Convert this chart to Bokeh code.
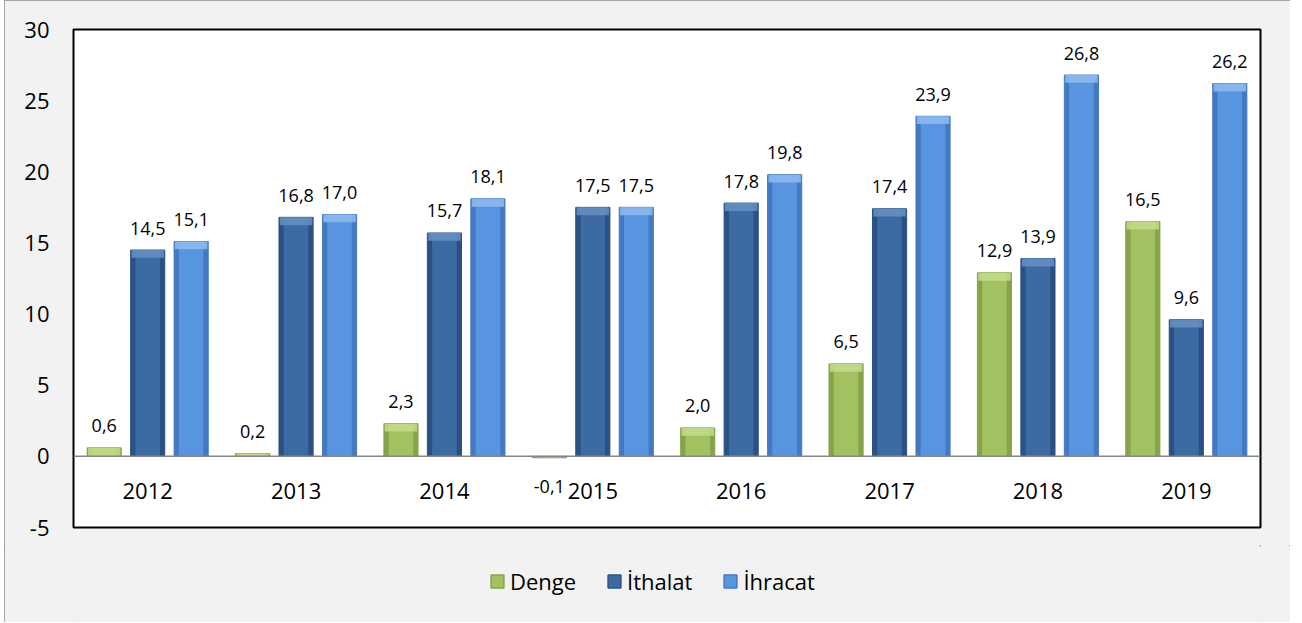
from bokeh.plotting import figure
from bokeh.layouts import column
from bokeh.models import ColumnDataSource, Range1d, Legend, LegendItem, FixedTicker, Span
from bokeh.core.properties import value
from bokeh.embed import file_html
from bokeh.resources import INLINE
import numpy as np

years = ["2012", "2013", "2014", "2015", "2016", "2017", "2018", "2019"]
denge = [0.6, 0.2, 2.3, -0.1, 2.0, 6.5, 12.9, 16.5]
ithalat = [14.5, 16.8, 15.7, 17.5, 17.8, 17.4, 13.9, 9.6]
ihracat = [15.1, 17.0, 18.1, 17.5, 19.8, 23.9, 26.8, 26.2]
y_ticks = [-5, 0, 5, 10, 15, 20, 25, 30]

FONT = "Open Sans"
BG = "#f2f2f2"

p = figure(width=1286, height=545, output_backend="svg", toolbar_location=None,
           x_range=Range1d(0, len(years)), y_range=Range1d(-5, 30),
           min_border_left=69, min_border_right=30, min_border_top=29, min_border_bottom=18)
p.background_fill_color = "white"
p.border_fill_color = BG
p.outline_line_color = "black"
p.outline_line_width = 2
p.xgrid.visible = False
p.ygrid.visible = False
p.xaxis.visible = False

ya = p.yaxis[0]
ya.ticker = FixedTicker(ticks=y_ticks)
ya.major_label_overrides = {t: str(t) for t in y_ticks}
ya.axis_line_color = None
ya.major_tick_line_color = None
ya.minor_tick_line_color = None
ya.major_tick_out = 0
ya.major_label_standoff = 24
ya.major_label_text_font = FONT
ya.major_label_text_font_size = "22px"
ya.major_label_text_color = "black"

p.add_layout(Span(location=0, dimension="width", line_color="#868686", line_width=1.5))

xc = np.arange(len(years)) + 0.5
offs = [-0.293, 0.0, 0.293]
bw = 0.23
series = [
    ("Denge", denge, "#86a34a", "#a2c160", "#c3dc8b"),
    ("İthalat", ithalat, "#2b5183", "#3c6ba3", "#6790c4"),
    ("İhracat", ihracat, "#4479c2", "#5895e0", "#8fbcf0"),
]

# legend figure
lf = figure(width=1286, height=77, output_backend="svg", toolbar_location=None,
            x_range=Range1d(0, 1), y_range=Range1d(0, 1),
            min_border_left=0, min_border_right=0, min_border_top=0, min_border_bottom=0)
lf.axis.visible = False
lf.grid.visible = False
lf.outline_line_color = None
lf.background_fill_color = BG
lf.border_fill_color = BG

items = []
for (name, vals, edge, main, hi), off in zip(series, offs):
    v = np.array(vals, dtype=float)
    x = xc + off
    src = ColumnDataSource(dict(x=x, top=v))
    p.vbar(x="x", top="top", bottom=0, width=bw, source=src,
           fill_color=edge, line_color=edge, line_width=1)
    p.vbar(x=x, top=v, bottom=0, width=bw * 0.72, fill_color=main, line_color=None)
    pos = v > 0
    hb = v - np.minimum(0.55, np.abs(v))
    p.vbar(x=x[pos], top=v[pos], bottom=hb[pos], width=bw * 0.95,
           fill_color=hi, line_color=None, fill_alpha=0.85)

    # legend-only renderer: its single bar lies outside the legend figure's range
    lr = lf.vbar(x=[5.0], top=[5.0], bottom=4.0, width=0.1,
                 fill_color=main, line_color=edge, line_width=1.5)
    items.append(LegendItem(label=name, renderers=[lr]))

    labels = [f"{a:.1f}".replace(".", ",") for a in vals]
    up = v >= 0
    p.text(x=x[up], y=v[up], text=[l for l, u in zip(labels, up) if u],
           text_align="center", text_baseline="middle", y_offset=-22,
           text_font=value(FONT), text_font_size="18px", text_color="black")
    if (~up).any():
        p.text(x=x[~up], y=v[~up], text=[l for l, u in zip(labels, up) if not u],
               text_align="center", text_baseline="middle", y_offset=29,
               text_font=value(FONT), text_font_size="18px", text_color="black")

p.text(x=xc, y=[0] * len(years), text=years, text_align="center", text_baseline="middle",
       y_offset=35, text_font=value(FONT), text_font_size="22px", text_color="black")

legend = Legend(items=items, orientation="horizontal", location=(416, 26),
                label_text_font=FONT, label_text_font_size="22px", label_text_color="black",
                glyph_width=16, glyph_height=16, label_standoff=5, spacing=30,
                background_fill_alpha=0, border_line_color=None, margin=0, padding=0)
lf.add_layout(legend, "center")

layout = column(p, lf, spacing=0)
layout.styles = {"margin-left": "4px", "outline": "1.5px solid #8c8c8c", "outline-offset": "-1.5px",
                 "background-color": BG}

open("out.html", "w").write(file_html(layout, INLINE))
